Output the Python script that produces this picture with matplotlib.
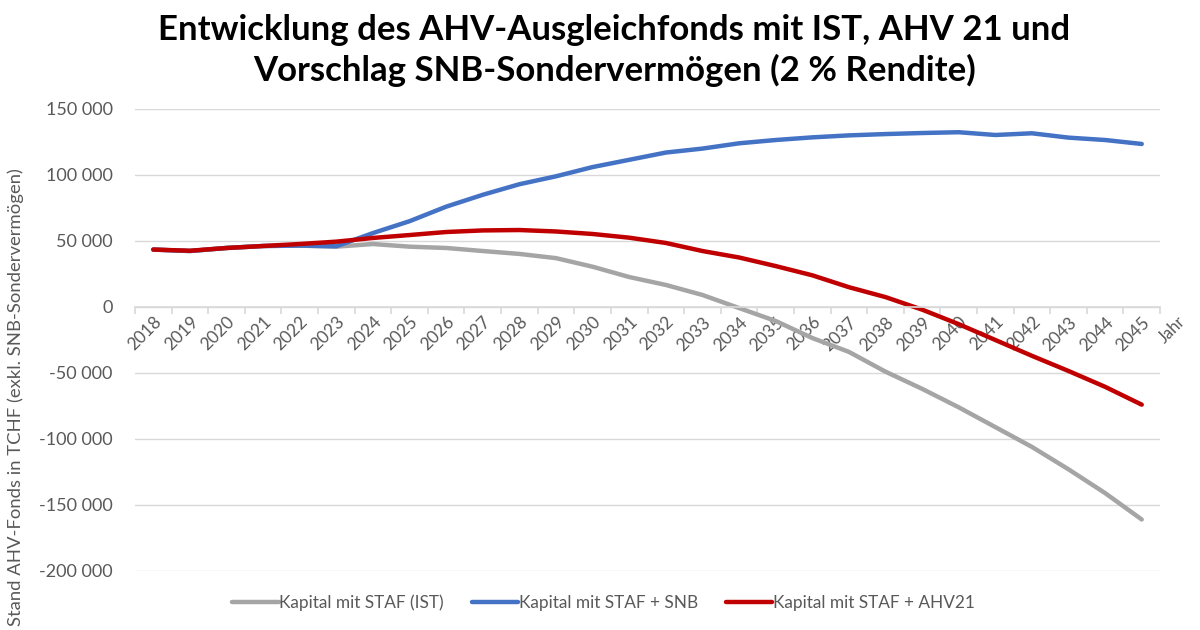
import numpy as np
import matplotlib
matplotlib.use("Agg")
import matplotlib.pyplot as plt
from matplotlib.ticker import FuncFormatter, FixedLocator

plt.rcParams["font.family"] = ["Lato", "DejaVu Sans"]

# Daten (in TCHF)
jahre = [str(j) for j in range(2018, 2046)]
kapital_ist = [43500, 42400, 44700, 46200, 46500, 45700, 47700, 45700, 44700, 42400,
               40200, 37000, 30500, 22700, 16700, 9100, -800, -10600, -23500, -34000,
               -49000, -62000, -76000, -91000, -106000, -123000, -141000, -161000]
kapital_snb = [43500, 42400, 44700, 46200, 46500, 46000, 56000, 65000, 76000, 85000,
               93000, 99000, 106000, 111500, 117000, 120000, 124000, 126500, 128500, 130000,
               131000, 131800, 132400, 130300, 131600, 128300, 126500, 123500]
kapital_ahv21 = [43500, 42600, 44700, 46200, 47700, 49500, 52300, 54500, 56800, 58000,
                 58300, 57200, 55300, 52500, 48500, 42400, 37500, 31000, 24000, 15000,
                 7500, -2000, -13000, -25000, -37000, -48500, -60500, -74000]

grau = "#A5A5A5"
blau = "#4472C4"
rot = "#C00000"
txt = "#595959"
gitter = "#D9D9D9"

fig = plt.figure(figsize=(12, 6.3), dpi=100)
ax = fig.add_axes([0.1125, 0.0937, 0.8542, 0.7333])

x = np.arange(len(jahre))
ax.plot(x, kapital_ist, color=grau, lw=3.2, solid_capstyle="round", label="Kapital mit STAF (IST)")
ax.plot(x, kapital_snb, color=blau, lw=3.2, solid_capstyle="round", label="Kapital mit STAF + SNB")
ax.plot(x, kapital_ahv21, color=rot, lw=3.2, solid_capstyle="round", label="Kapital mit STAF + AHV21")

ax.set_xlim(-0.5, len(jahre) - 0.5)
ax.set_ylim(-200000, 150000)
ax.set_yticks(np.arange(-200000, 150001, 50000))
ax.yaxis.set_major_formatter(FuncFormatter(lambda v, p: "{:,.0f}".format(v).replace(",", " ")))
ax.grid(axis="y", color=gitter, lw=1)
ax.set_axisbelow(True)

for s in ["top", "right", "left"]:
    ax.spines[s].set_visible(False)
ax.spines["bottom"].set_position(("data", 0))
ax.spines["bottom"].set_color(gitter)
ax.spines["bottom"].set_linewidth(1.2)

ax.xaxis.set_major_locator(FixedLocator(np.arange(-0.5, len(jahre), 1.0)))
ax.xaxis.set_major_formatter(FuncFormatter(lambda v, p: ""))
ax.xaxis.set_minor_locator(FixedLocator(x))
ax.set_xticklabels(jahre, minor=True)
ax.tick_params(axis="x", which="major", length=5, color=gitter, width=1.2)
ax.tick_params(axis="x", which="minor", length=0, pad=5, labelsize=12.5, labelcolor=txt)
for lab in ax.get_xticklabels(minor=True):
    lab.set_rotation(45)
    lab.set_ha("right")
    lab.set_va("top")
    lab.set_rotation_mode("anchor")
ax.tick_params(axis="y", length=0, labelsize=13, labelcolor=txt, pad=16)

ax.text(len(jahre) - 0.3, -30000, "Jahr", rotation=45, ha="left", va="bottom",
        rotation_mode="anchor", fontsize=12, color=txt)

fig.text(0.006, 0.37, "Stand AHV-Fonds in TCHF (exkl. SNB-Sondervermögen)", rotation=90,
         ha="left", va="center", fontsize=13.3, color=txt)

fig.suptitle("Entwicklung des AHV-Ausgleichfonds mit IST, AHV 21 und\nVorschlag SNB-Sondervermögen (2 % Rendite)",
             x=0.512, y=0.978, fontsize=25, fontweight="bold", linespacing=1.3)

fig.legend(loc="center", bbox_to_anchor=(0.503, 0.043), ncol=3, frameon=False,
           fontsize=12.4, labelcolor=txt, handlelength=2.7, handletextpad=0.05, columnspacing=1.6)

fig.savefig("out.png", dpi=100)
